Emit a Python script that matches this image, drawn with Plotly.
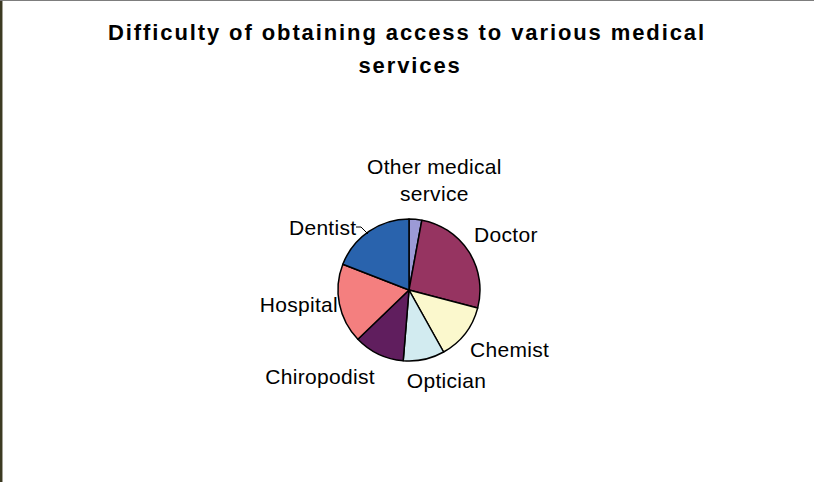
import plotly.graph_objects as go

W, H = 814, 482

# Share of respondents reporting difficulty, by service (percent)
services = ["Other medical service", "Doctor", "Chemist", "Optician",
            "Chiropodist", "Hospital", "Dentist"]
shares = [2.9, 26.2, 12.8, 9.4, 11.5, 18.1, 19.1]
slice_colors = ["#9c9ad6", "#963461", "#fbf8cd", "#d2ebf0",
                "#601e5e", "#f47f7f", "#2963ad"]

# Label text and placement (pixel centres on the page)
label_text = ["Other medical<br>service", "Doctor", "Chemist", "Optician",
              "Chiropodist", "Hospital", "Dentist"]
label_pos = [(435, 180), (506, 234), (509, 349), (446, 380),
             (320, 376), (299, 304), (323, 227)]

FONT = "Liberation Sans, Arial, sans-serif"


def px(x, y):
    return x / W, 1 - y / H


fig = go.Figure(go.Pie(
    labels=services,
    values=shares,
    sort=False,
    direction="clockwise",
    rotation=0,
    marker=dict(colors=slice_colors, line=dict(color="#000000", width=1.5)),
    textinfo="none",
    domain=dict(x=[338 / W, 480 / W], y=[121 / H, 263 / H]),
    showlegend=False,
    hoverinfo="label+percent",
))

annotations = [
    dict(text="services", xref="paper", yref="paper",
         x=px(410, 66)[0], y=px(410, 66)[1], xanchor="center", yanchor="middle",
         showarrow=False,
         font=dict(family=FONT, size=22, color="#000000", weight="bold")),
]
for txt, (lx, ly) in zip(label_text, label_pos):
    ax, ay = px(lx, ly)
    annotations.append(dict(
        text=txt, xref="paper", yref="paper", x=ax, y=ay,
        xanchor="center", yanchor="middle", showarrow=False,
        font=dict(family=FONT, size=21, color="#000000"),
    ))

# short leader from the Dentist label to its slice
p0, p1, p2 = px(356, 227), px(361, 227), px(368, 234)
leader = dict(type="path", xref="paper", yref="paper",
              path=f"M {p0[0]},{p0[1]} L {p1[0]},{p1[1]} L {p2[0]},{p2[1]}",
              line=dict(color="#000000", width=1))

fig.update_layout(
    width=W,
    height=H,
    margin=dict(l=0, r=0, t=0, b=0),
    paper_bgcolor="#ffffff",
    plot_bgcolor="#ffffff",
    title=dict(
        text="Difficulty of obtaining access to various medical",
        font=dict(family=FONT, size=22, color="#000000", weight="bold"),
        x=0.5, xanchor="center",
        y=1 - 32 / H, yanchor="middle", yref="container",
    ),
    annotations=annotations,
    shapes=[
        dict(type="line", xref="paper", yref="paper", x0=0.0015, x1=0.0015, y0=0, y1=1,
             line=dict(color="#3c3a22", width=2.5)),
        dict(type="line", xref="paper", yref="paper", x0=0, x1=1, y0=0.999, y1=0.999,
             line=dict(color="#7a7a7a", width=1)),
        leader,
    ],
)

# Spread the heading characters as in the original chart text
post = """
var s = document.createElement('style');
s.textContent = '.gtitle, .annotation[data-index="0"] text { letter-spacing: 1.9px; }'
  + ' .annotation text { letter-spacing: 0.3px; }';
document.head.appendChild(s);
"""

fig.write_html("out.html", post_script=post)
